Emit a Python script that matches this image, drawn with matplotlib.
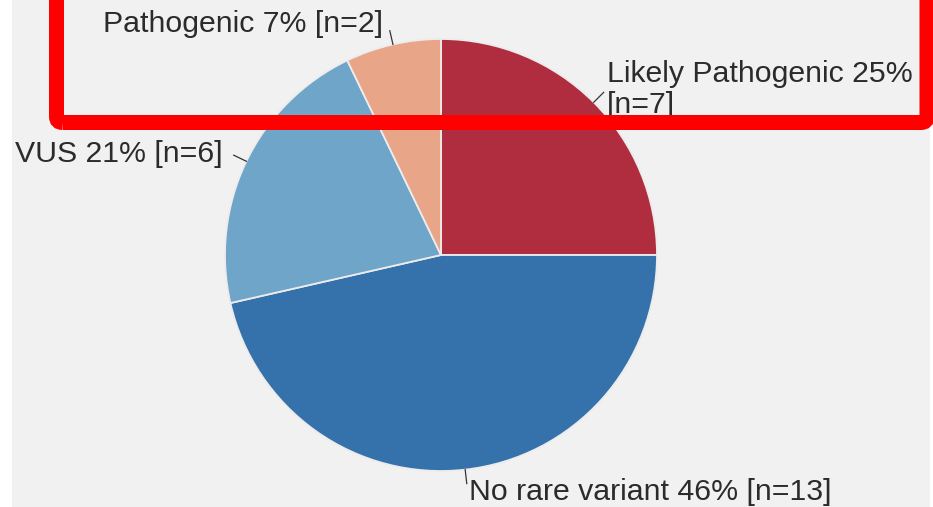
import numpy as np
import matplotlib
matplotlib.use("Agg")
import matplotlib.pyplot as plt
from matplotlib.patches import Rectangle, FancyBboxPatch

# Variant classification counts
categories = ["Likely Pathogenic", "No rare variant", "VUS", "Pathogenic"]
counts = [7, 13, 6, 2]
colors = ["#b02d3f", "#3571ab", "#6ea5c8", "#e8a587"]

total = sum(counts)
labels = [f"{c} {round(100 * n / total)}% [n={n}]" for c, n in zip(categories, counts)]
labels[0] = labels[0].replace(" [", "\n[")

W, H = 933, 507
fig = plt.figure(figsize=(W / 100, H / 100), dpi=100, facecolor="white")

ax = fig.add_axes([0, 0, 1, 1])
cx, cy, r = 441, H - 255, 216
wedges, _ = ax.pie(counts, colors=colors, startangle=90, counterclock=False,
                   center=(cx, cy), radius=r,
                   wedgeprops=dict(edgecolor="#ececec", linewidth=1.3))
ax.set_aspect("auto")
ax.set_xlim(0, W)
ax.set_ylim(0, H)
ax.axis("off")

# Light gray panel behind the chart
ax.add_patch(Rectangle((12, 0), 930 - 12, H, facecolor="#f1f1f1",
                       edgecolor="none", zorder=-5))

# Short leader ticks at each wedge's mid-angle
for w in wedges:
    ang = np.deg2rad((w.theta1 + w.theta2) / 2)
    x0, y0 = cx + r * np.cos(ang), cy + r * np.sin(ang)
    x1, y1 = cx + 1.065 * r * np.cos(ang), cy + 1.065 * r * np.sin(ang)
    ax.plot([x0, x1], [y0, y1], color="#333333", lw=0.9)

font = dict(family=["Liberation Sans", "DejaVu Sans"], size=21.8, color="#2b2b2b")
ax.text(607, H - 113, labels[0], ha="left", va="baseline", linespacing=1.15, **font)
ax.text(469, H - 500, labels[1], ha="left", va="baseline", **font)
ax.text(223, H - 162, labels[2], ha="right", va="baseline", **font)
ax.text(383, H - 32, labels[3], ha="right", va="baseline", **font)

# Red highlight frame around the upper labels
frame = FancyBboxPatch((56.5, H - 122.5), 927 - 56.5, 160,
                       boxstyle="round,pad=0,rounding_size=6",
                       facecolor="none", edgecolor="#ff0000", linewidth=10.8,
                       clip_on=False, zorder=10)
ax.add_patch(frame)

fig.savefig("out.png", dpi=100, facecolor="white")
